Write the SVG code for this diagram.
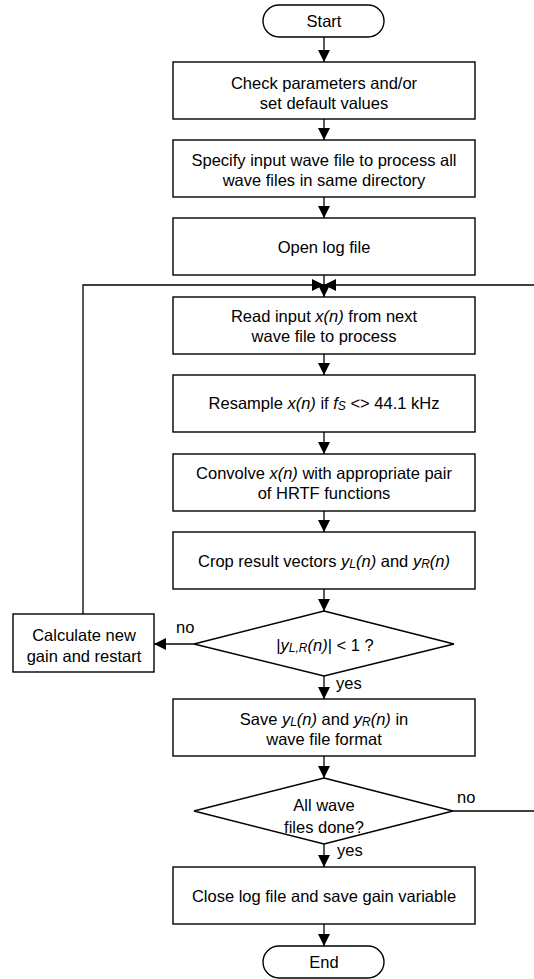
<svg xmlns="http://www.w3.org/2000/svg" width="534" height="979" viewBox="0 0 534 979">
<style>
.n{fill:#fff;stroke:#000;stroke-width:1.4}
.t{font-family:"Liberation Sans",Arial,sans-serif;font-size:16.5px;fill:#000;text-anchor:middle}
.l{font-family:"Liberation Sans",Arial,sans-serif;font-size:16.5px;fill:#000}
.i{font-style:italic}
.s{font-size:12px;font-style:italic}
.c{fill:none;stroke:#000;stroke-width:1.3}
</style>
<defs>
<marker id="ah" markerUnits="userSpaceOnUse" markerWidth="12" markerHeight="12" refX="12" refY="6" orient="auto">
<path d="M0,0 L12,6 L0,12 z" fill="#000"/>
</marker>
</defs>
<rect width="534" height="979" fill="#fff"/>
<g id="connectors">
<path class="c" d="M324,37 V62" marker-end="url(#ah)"/>
<path class="c" d="M324,119 V140" marker-end="url(#ah)"/>
<path class="c" d="M324,197 V218" marker-end="url(#ah)"/>
<path class="c" d="M324,275 V297" marker-end="url(#ah)"/>
<path class="c" d="M83,614 V285 H324" marker-end="url(#ah)"/>
<path class="c" d="M453,811 H545 V285 H324" marker-end="url(#ah)"/>
<path class="c" d="M324,354 V375" marker-end="url(#ah)"/>
<path class="c" d="M324,432 V454" marker-end="url(#ah)"/>
<path class="c" d="M324,511 V532" marker-end="url(#ah)"/>
<path class="c" d="M324,589 V611" marker-end="url(#ah)"/>
<path class="c" d="M194,644 H154" marker-end="url(#ah)"/>
<path class="c" d="M324,676 V699" marker-end="url(#ah)"/>
<path class="c" d="M324,756 V778" marker-end="url(#ah)"/>
<path class="c" d="M324,844 V867" marker-end="url(#ah)"/>
<path class="c" d="M324,924 V946" marker-end="url(#ah)"/>
<text class="l" x="176" y="633">no</text>
<text class="l" x="336" y="689">yes</text>
<text class="l" x="457" y="803">no</text>
<text class="l" x="337" y="856">yes</text>
</g>
<g id="start">
<rect class="n" x="263" y="5" width="121" height="32" rx="16" ry="16"/>
<text class="t" x="324" y="27">Start</text>
</g>
<g id="check">
<rect class="n" x="173" y="62" width="302" height="57"/>
<text class="t" x="324" y="89">Check parameters and/or</text>
<text class="t" x="324" y="109">set default values</text>
</g>
<g id="specify">
<rect class="n" x="173" y="140" width="302" height="57"/>
<text class="t" x="324" y="165.5">Specify input wave file to process all</text>
<text class="t" x="324" y="185.5">wave files in same directory</text>
</g>
<g id="openlog">
<rect class="n" x="173" y="218" width="302" height="57"/>
<text class="t" x="324" y="253">Open log file</text>
</g>
<g id="read">
<rect class="n" x="173" y="297" width="302" height="57"/>
<text class="t" x="324" y="321.5">Read input <tspan class="i">x(n)</tspan> from next</text>
<text class="t" x="324" y="341.5">wave file to process</text>
</g>
<g id="resample">
<rect class="n" x="173" y="375" width="302" height="57"/>
<text class="t" x="324" y="409">Resample <tspan class="i">x(n)</tspan> if <tspan class="i">f</tspan><tspan class="s" dy="1">S</tspan><tspan dy="-1"> &lt;&gt; 44.1 kHz</tspan></text>
</g>
<g id="convolve">
<rect class="n" x="173" y="454" width="302" height="57"/>
<text class="t" x="324" y="478.5">Convolve <tspan class="i">x(n)</tspan> with appropriate pair</text>
<text class="t" x="324" y="498.5">of HRTF functions</text>
</g>
<g id="crop">
<rect class="n" x="173" y="532" width="302" height="57"/>
<text class="t" x="324" y="567">Crop result vectors <tspan class="i">y</tspan><tspan class="s" dy="1">L</tspan><tspan class="i" dy="-1">(n)</tspan> and <tspan class="i">y</tspan><tspan class="s" dy="1">R</tspan><tspan class="i" dy="-1">(n)</tspan></text>
</g>
<g id="check-range">
<polygon class="n" points="324,611 454,644 324,676 194,644"/>
<text class="t" x="325" y="651">|<tspan class="i">y</tspan><tspan class="s" dy="1">L,R</tspan><tspan class="i" dy="-1">(n)</tspan>| &lt; 1 ?</text>
</g>
<g id="calc">
<rect class="n" x="13" y="614" width="141" height="58"/>
<text class="t" x="84" y="641">Calculate new</text>
<text class="t" x="84" y="661.5">gain and restart</text>
</g>
<g id="save">
<rect class="n" x="173" y="699" width="302" height="57"/>
<text class="t" x="324" y="725">Save <tspan class="i">y</tspan><tspan class="s" dy="1">L</tspan><tspan class="i" dy="-1">(n)</tspan> and <tspan class="i">y</tspan><tspan class="s" dy="1">R</tspan><tspan class="i" dy="-1">(n)</tspan> in</text>
<text class="t" x="324" y="745">wave file format</text>
</g>
<g id="alldone">
<polygon class="n" points="324,778 453,811 324,844 194,811"/>
<text class="t" x="324" y="811">All wave</text>
<text class="t" x="324" y="832.5">files done?</text>
</g>
<g id="close">
<rect class="n" x="173" y="867" width="302" height="57"/>
<text class="t" x="324" y="901.5">Close log file and save gain variable</text>
</g>
<g id="end">
<rect class="n" x="263" y="946" width="121" height="32" rx="16" ry="16"/>
<text class="t" x="324" y="968">End</text>
</g>
</svg>
